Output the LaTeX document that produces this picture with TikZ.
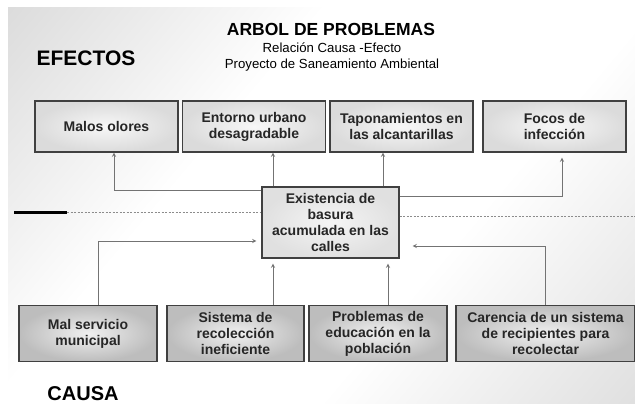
\documentclass[tikz,border=0pt]{standalone}
\usepackage{fontspec}
\setmainfont{Liberation Sans}
\pgfdeclarehorizontalshading{fondo}{100bp}{color(0bp)=(gray!45); color(38bp)=(white); color(62bp)=(white); color(100bp)=(gray!40)}
\tikzset{
  efecto/.style={draw=black!75,line width=1.2pt,inner color=gray!6,outer color=gray!28,
    minimum width=143,minimum height=51,align=center,inner sep=2pt,text=black!85},
  causa/.style={draw=black!75,line width=1.2pt,inner color=gray!12,outer color=gray!52,
    minimum width=138,minimum height=56,align=center,inner sep=2pt,text=black!85},
  flecha/.style={->,draw=black!55,line width=.9pt},
}
\begin{document}
\begin{tikzpicture}[>=stealth,x=1pt,y=-1pt,font=\bfseries\fontsize{14}{16}\selectfont]
    \useasboundingbox (0,0) rectangle (635,404);
    \begin{scope}[y=1pt]
        \shade[shading=fondo,shading angle=-40] (8,-8) rectangle (635,-404);
    \end{scope}
    % titulos
    \node[font=\bfseries\fontsize{17.5}{20}\selectfont] (titulo) at (331,29) {ARBOL DE PROBLEMAS};
    \node[font=\fontsize{13.2}{16}\selectfont,align=center] (sub) at (332,57) {Relación Causa -Efecto\\Proyecto de Saneamiento Ambiental};
    \node[font=\bfseries\fontsize{21}{24}\selectfont] (efectos) at (86,58.5) {EFECTOS};
    \node[font=\bfseries\fontsize{20}{24}\selectfont] (causas) at (83,394) {CAUSA};
    % efectos
    \node[efecto] (e1) at (106.5,126.5) {Malos olores};
    \node[efecto] (e2) at (254,126.5) {Entorno urbano\\desagradable};
    \node[efecto] (e3) at (401.5,126.5) {Taponamientos en\\las alcantarillas};
    \node[efecto] (e4) at (554.5,126.5) {Focos de\\infección};
    % problema central
    \node[efecto,minimum width=137,minimum height=71,inner color=gray!8,outer color=gray!24] (c) at (330.5,222.5) {Existencia de\\basura\\acumulada en las\\calles};
    % causas
    \node[causa] (b1) at (88,333.5) {Mal servicio\\municipal};
    \node[causa,minimum width=137] (b2) at (235.5,333.5) {Sistema de\\recolección\\ineficiente};
    \node[causa] (b3) at (378,333.5) {Problemas de\\educación en la\\población};
    \node[causa,minimum width=179] (b4) at (545.5,333.5) {Carencia de un sistema\\de recipientes para\\recolectar};
    % linea divisoria
    \draw[line width=3pt] (14,212) -- (67,212);
    \draw[black!45,dash pattern=on 2pt off 1.5pt] (67,212) -- (c.west |- 0,212) (c.east |- 0,216) -- (635,216);
    % flechas hacia los efectos
    \draw[flecha] ([yshift=-4]c.north west) -| ([xshift=7.5]e1.south);
    \draw[flecha] ([xshift=-57.5]c.north) -- ([xshift=-57.5]c.north |- e2.south);
    \draw[flecha] ([xshift=52.5]c.north) -- ([xshift=52.5]c.north |- e3.south);
    \draw[flecha,shorten >=5pt] ([yshift=-10]c.north east) -| ([xshift=7.5]e4.south);
    % flechas desde las causas
    \draw[flecha,shorten >=5pt] ([xshift=10]b1.north) |- ([yshift=-18.5]c.west);
    \draw[flecha,shorten >=5pt] ([xshift=37.5]b2.north) -- ([xshift=37.5]b2.north |- c.south);
    \draw[flecha,shorten >=5pt] ([xshift=10]b3.north) -- ([xshift=10]b3.north |- c.south);
    \draw[flecha,shorten >=13pt] (b4.north) |- ([yshift=-23.5]c.east);
\end{tikzpicture}
\end{document}
